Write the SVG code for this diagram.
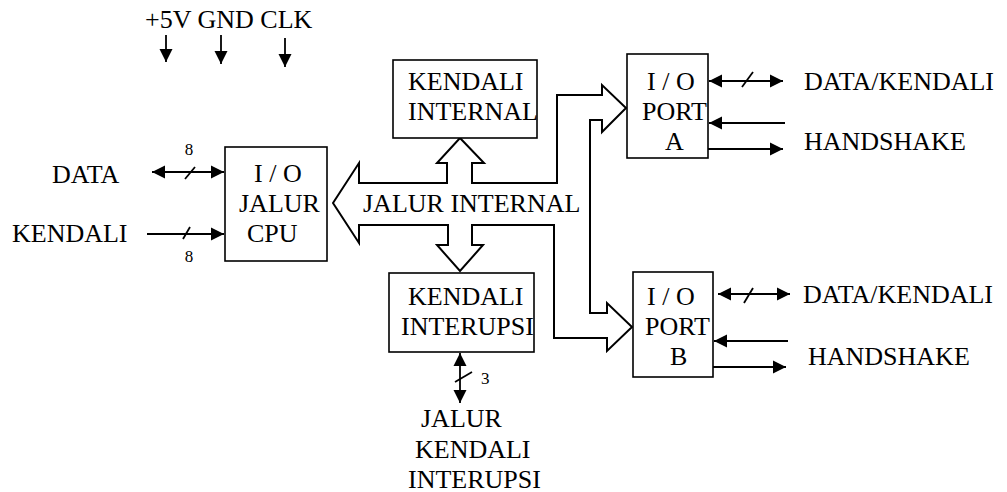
<svg xmlns="http://www.w3.org/2000/svg" width="1007" height="492" viewBox="0 0 1007 492">
<style>
text{font-family:"Liberation Serif","Times New Roman",serif;font-size:26px;fill:#000}
.s{font-size:17px}
.box{fill:#fff;stroke:#000;stroke-width:1.6}
.ln{fill:none;stroke:#000;stroke-width:1.8}
.bus{fill:#fff;stroke:#000;stroke-width:2}
</style>
<defs>
<marker id="ah" markerUnits="userSpaceOnUse" markerWidth="14" markerHeight="14" refX="13" refY="7" orient="auto-start-reverse" viewBox="0 0 14 14">
<path d="M0,0.5 L13,7 L0,13.5 z" fill="#000"/>
</marker>
</defs>
<rect width="1007" height="492" fill="#fff"/>
<g id="bus">
<path class="bus" d="M333,203 L359,163 L359,183 L447,183 L447,163 L437,163 L460,138 L484,163 L472,163 L472,183 L557,183 L557,95 L602,95 L602,85 L626,108 L602,132 L602,120 L590,120 L590,313 L607,313 L607,303 L632,327 L607,351 L607,338 L554,338 L554,225 L472,225 L472,245 L483,245 L460,271 L437,245 L448,245 L448,225 L359,225 L359,243 Z"/>
<text x="363" y="212">JALUR INTERNAL</text>
</g>
<g id="cpu">
<rect class="box" x="225" y="147" width="102" height="114"/>
<text x="254" y="182">I / O</text>
<text x="239" y="212">JALUR</text>
<text x="247" y="242">CPU</text>
</g>
<g id="kendali-internal">
<rect class="box" x="393" y="60" width="144" height="78"/>
<text x="408" y="90">KENDALI</text>
<text x="408" y="120">INTERNAL</text>
</g>
<g id="kendali-interupsi">
<rect class="box" x="389" y="273" width="145" height="79"/>
<text x="408" y="305">KENDALI</text>
<text x="401" y="335">INTERUPSI</text>
</g>
<g id="port-a">
<rect class="box" x="627" y="54" width="81" height="104"/>
<text x="647" y="90">I / O</text>
<text x="642" y="120">PORT</text>
<text x="665" y="150">A</text>
</g>
<g id="port-b">
<rect class="box" x="633" y="272" width="80" height="105"/>
<text x="647" y="305">I / O</text>
<text x="645" y="335">PORT</text>
<text x="670" y="365">B</text>
</g>
<g id="labels">
<text x="145" y="28">+5V GND CLK</text>
<text x="52" y="183">DATA</text>
<text x="12" y="242">KENDALI</text>
<text x="804" y="90">DATA/KENDALI</text>
<text x="804" y="150">HANDSHAKE</text>
<text x="803" y="303">DATA/KENDALI</text>
<text x="808" y="365">HANDSHAKE</text>
<text x="421" y="427">JALUR</text>
<text x="415" y="458">KENDALI</text>
<text x="408" y="488">INTERUPSI</text>
<text class="s" x="189" y="155" text-anchor="middle">8</text>
<text class="s" x="189" y="262" text-anchor="middle">8</text>
<text class="s" x="481" y="384">3</text>
</g>
<g id="connectors">
<line class="ln" x1="166" y1="35" x2="166" y2="62" marker-end="url(#ah)"/>
<line class="ln" x1="221" y1="35" x2="221" y2="64" marker-end="url(#ah)"/>
<line class="ln" x1="285" y1="38" x2="285" y2="67" marker-end="url(#ah)"/>
<line class="ln" x1="152" y1="172" x2="224" y2="172" marker-start="url(#ah)" marker-end="url(#ah)"/>
<line class="ln" x1="185" y1="179" x2="195" y2="167"/>
<line class="ln" x1="147" y1="234" x2="224" y2="234" marker-end="url(#ah)"/>
<line class="ln" x1="183" y1="239" x2="190" y2="227"/>
<line class="ln" x1="460" y1="353" x2="460" y2="403" marker-start="url(#ah)" marker-end="url(#ah)"/>
<line class="ln" x1="455" y1="382" x2="472" y2="372"/>
<line class="ln" x1="709" y1="81" x2="783" y2="81" marker-start="url(#ah)" marker-end="url(#ah)"/>
<line class="ln" x1="742" y1="87" x2="753" y2="72"/>
<line class="ln" x1="785" y1="123" x2="709" y2="123" marker-end="url(#ah)"/>
<line class="ln" x1="708" y1="149" x2="783" y2="149" marker-end="url(#ah)"/>
<line class="ln" x1="718" y1="294" x2="790" y2="294" marker-start="url(#ah)" marker-end="url(#ah)"/>
<line class="ln" x1="744" y1="303" x2="753" y2="288"/>
<line class="ln" x1="788" y1="341" x2="714" y2="341" marker-end="url(#ah)"/>
<line class="ln" x1="713" y1="367" x2="786" y2="367" marker-end="url(#ah)"/>
</g>
</svg>
